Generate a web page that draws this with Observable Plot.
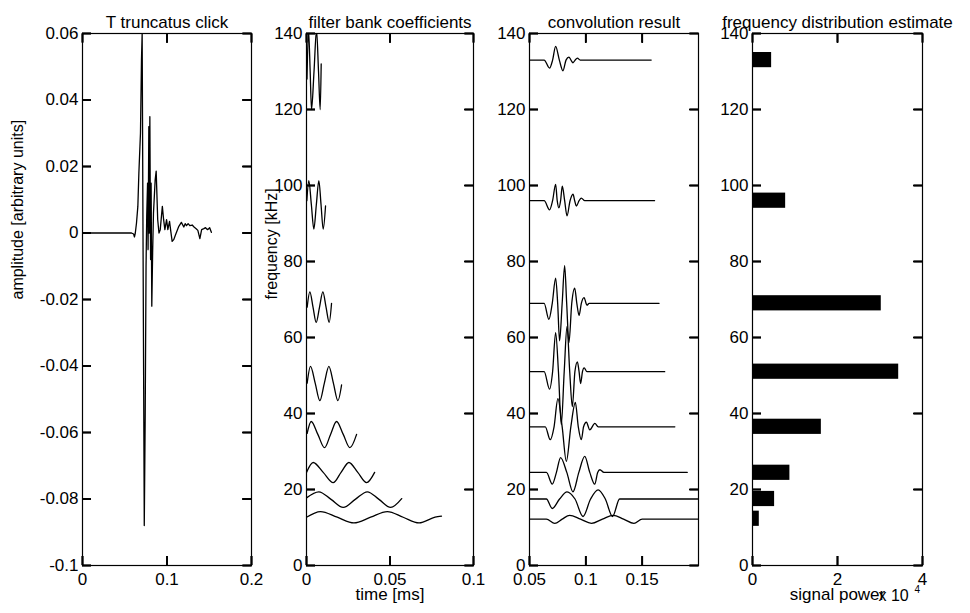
<!DOCTYPE html>
<html><head><meta charset="utf-8">
<script src="https://cdn.jsdelivr.net/npm/d3@7"></script>
<script src="https://cdn.jsdelivr.net/npm/@observablehq/plot@0.6"></script>
<style>
html,body{margin:0;padding:0;background:#fff;}
#wrap{position:relative;width:970px;height:613px;overflow:hidden;background:#fff;}
#wrap > svg{position:absolute;top:0;margin:0;background:transparent;overflow:visible;}
</style></head><body><div id="wrap"></div>
<script>
// ---------- Panel 1: T truncatus click ----------
const clickT = [0, 0.058, 0.0605, 0.0615, 0.0625, 0.0639, 0.0655, 0.0667, 0.0686, 0.0698, 0.0706, 0.0716, 0.0731, 0.0742, 0.0752, 0.0760, 0.0770, 0.0776, 0.0785, 0.0790, 0.0797, 0.0806, 0.0812, 0.0820, 0.0830, 0.0840, 0.0860, 0.0872, 0.0890, 0.0905, 0.0920, 0.0945, 0.0960, 0.0975, 0.0995, 0.1010, 0.1030, 0.1045, 0.1061, 0.1080, 0.1101, 0.1140, 0.1170, 0.1199, 0.1215, 0.1231, 0.1250, 0.1270, 0.1298, 0.1320, 0.1345, 0.1365, 0.1389, 0.1410, 0.1436, 0.1456, 0.1480, 0.1505, 0.1525];
const clickV = [0, 0, -0.0003, -0.0012, 0, 0.003, 0.008, 0.018, 0.030, 0.052, 0.060, 0.0, -0.088, -0.055, -0.01, 0.005, 0.015, -0.005, 0.032, 0.0, 0.035, -0.008, 0.015, -0.022, -0.006, 0.006, 0.016, 0.0186, 0.004, 0.0, 0.001, 0.008, 0.004, 0.001, 0.004, 0.001, 0.0035, 0.0005, -0.0025, -0.002, -0.0005, 0.002, 0.0032, 0.0018, 0.0028, 0.0022, 0.0028, 0.0022, 0.0024, 0.0018, 0.0013, 0.0008, -0.0017, 0.0010, 0.0013, 0.0016, 0.0010, 0.0016, 0.0002];
const p1XTicks = [0, 0.1, 0.2];
const p1YTicks = [-0.1, -0.08, -0.06, -0.04, -0.02, 0, 0.02, 0.04, 0.06];

// ---------- Panel 2: filter bank coefficients (time ms, kHz) ----------
const fb1T = [0.0003, 0.0012, 0.0022, 0.0030, 0.0045, 0.0060, 0.0072, 0.0082, 0.0088];
const fb1F = [128, 141, 130, 120, 130, 141, 130, 120, 132];
const fb2T = [0.0002, 0.0014, 0.0029, 0.0044, 0.0059, 0.0074, 0.0087, 0.0100, 0.0114];
const fb2F = [96, 101.3, 95, 88.5, 95, 101.3, 95, 88.5, 94.6];
const fb3T = [0.0004, 0.0020, 0.0039, 0.0058, 0.0078, 0.0098, 0.0117, 0.0136, 0.0150];
const fb3F = [68, 72, 68, 64, 68, 72, 68, 64, 69];
const fb4T = [0.0004, 0.0024, 0.0052, 0.0080, 0.0107, 0.0134, 0.0161, 0.0188, 0.0210];
const fb4F = [48, 52.4, 48, 43.4, 48, 52.4, 48, 43.4, 47.5];
const fb5T = [0.0004, 0.0028, 0.0068, 0.0108, 0.0144, 0.0180, 0.0220, 0.0260, 0.0300];
const fb5F = [34.8, 37.9, 34.5, 31, 34.5, 37.9, 34.5, 31, 34.5];
const fb6T = [0, 0.0040, 0.0100, 0.0160, 0.0207, 0.0254, 0.0307, 0.0360, 0.0408];
const fb6F = [24.5, 27.1, 24.5, 21.8, 24.5, 27.1, 24.5, 21.8, 24.5];
const fb7T = [0, 0.0074, 0.0147, 0.0220, 0.0292, 0.0364, 0.0434, 0.0504, 0.0570];
const fb7F = [17.8, 19.4, 17.4, 15.3, 17.4, 19.4, 17.4, 15.3, 17.6];
const fb8T = [0, 0.0084, 0.0184, 0.0284, 0.0384, 0.0484, 0.0579, 0.0674, 0.0770, 0.0808];
const fb8F = [12.7, 14.2, 12.7, 11.2, 12.7, 14.2, 12.7, 11.2, 12.7, 13.0];
const p2XTicks = [0, 0.05, 0.1];
const freqTicks = [0, 20, 40, 60, 80, 100, 120, 140];

// ---------- Panel 3: convolution result ----------
const cvAT = [0.05, 0.063, 0.0678, 0.0705, 0.0732, 0.0765, 0.0797, 0.0824, 0.085, 0.0868, 0.0886, 0.0905, 0.0925, 0.095, 0.158];
const cvAF = [133, 133, 130.9, 133, 136.6, 133, 130.2, 133, 133.8, 133, 132.3, 133, 133.5, 133, 133];
const cvBT = [0.05, 0.063, 0.0678, 0.0705, 0.0732, 0.0746, 0.0761, 0.0776, 0.0791, 0.0812, 0.0833, 0.086, 0.0886, 0.0901, 0.0916, 0.094, 0.096, 0.099, 0.161];
const cvBF = [96, 96, 93.6, 96, 100.3, 96, 94.1, 96, 99.8, 96, 92, 96, 97.7, 96, 94.6, 96, 96.7, 96, 96];
const cvCT = [0.05, 0.063, 0.0672, 0.0702, 0.0732, 0.075, 0.0767, 0.079, 0.0812, 0.083, 0.085, 0.0875, 0.0901, 0.092, 0.094, 0.096, 0.0984, 0.101, 0.103, 0.165];
const cvCF = [69, 69, 64.8, 69, 75.6, 69, 59.1, 69, 78.9, 69, 58.6, 69, 73, 69, 65.8, 69, 70.5, 68.5, 69, 69];
const cvDT = [0.05, 0.063, 0.0678, 0.0705, 0.0732, 0.0757, 0.0782, 0.0808, 0.0833, 0.0857, 0.088, 0.0903, 0.0925, 0.094, 0.0954, 0.097, 0.0985, 0.101, 0.170];
const cvDF = [51, 51, 46.4, 51, 61.3, 51, 37.1, 51, 62.9, 51, 41.8, 51, 53.6, 51, 47.9, 51, 52, 51, 51];
const cvET = [0.05, 0.064, 0.0684, 0.0718, 0.0752, 0.079, 0.0827, 0.0867, 0.0907, 0.0933, 0.096, 0.098, 0.1005, 0.1035, 0.108, 0.111, 0.179];
const cvEF = [36.5, 36.5, 33.1, 36.5, 43.9, 36.5, 27.4, 36.5, 42.9, 36.5, 33.1, 36.5, 37.7, 35.7, 37.4, 36.5, 36.5];
const cvFT = [0.05, 0.065, 0.0702, 0.0739, 0.0776, 0.0831, 0.0886, 0.0938, 0.099, 0.1035, 0.1079, 0.1105, 0.1125, 0.116, 0.190];
const cvFF = [24.5, 24.5, 21.4, 24.5, 28.4, 24.5, 19.4, 24.5, 28.7, 24.5, 21.4, 24.5, 25.2, 24.5, 24.5];
const cvGT = [0.05, 0.065, 0.0702, 0.0767, 0.0833, 0.0904, 0.0975, 0.1042, 0.1109, 0.1173, 0.1237, 0.1300, 0.2];
const cvGF = [17.5, 17.5, 15.0, 17.5, 19.4, 17.5, 12.9, 17.5, 19.9, 17.5, 12.9, 17.5, 17.5];
const cvHT = [0.05, 0.065, 0.0724, 0.079, 0.0856, 0.0953, 0.105, 0.1147, 0.1243, 0.1335, 0.1427, 0.150, 0.2];
const cvHF = [12.2, 12.2, 11.1, 12.2, 13.2, 12.2, 11.1, 12.2, 13.2, 12.2, 11.1, 12.2, 12.2];
const p3XTicks = [0.05, 0.1, 0.15];

// ---------- Panel 4: frequency distribution estimate ----------
const bandFreq = [133, 96, 69, 51, 36.5, 24.4, 17.5, 12.3];
const bandPower = [0.45, 0.78, 3.03, 3.44, 1.62, 0.88, 0.52, 0.16]; // x 10^4
const p4XTicks = [0, 2, 4];

// ---------- helpers ----------
const FONT = "'Liberation Sans', Arial, Helvetica, sans-serif";
const TICK = 9;
const FRAME_H = 532;
const fmt = d => String(Math.round(d * 1000) / 1000);
const blank = () => "";
function box(xt, yt, frameW) {
  const tk = {stroke: "black", strokeWidth: 1.8};
  return [
    Plot.frame({stroke: "black", strokeWidth: 1.2}),
    // inward ticks on all four sides (MATLAB box style)
    Plot.axisX(xt, {anchor: "bottom", tickSize: TICK, dy: -TICK, tickFormat: blank, label: null, ...tk}),
    Plot.axisX(xt, {anchor: "top", tickSize: TICK, dy: TICK, tickFormat: blank, label: null, ...tk}),
    Plot.axisY(yt, {anchor: "left", tickSize: TICK, dx: TICK, tickFormat: blank, label: null, ...tk}),
    Plot.axisY(yt, {anchor: "right", tickSize: TICK, dx: -TICK, tickFormat: blank, label: null, ...tk}),
    Plot.ruleX(xt, {x: d => d, insetTop: FRAME_H - TICK, ...tk}),
    Plot.ruleX(xt, {x: d => d, insetBottom: FRAME_H - TICK, ...tk}),
    Plot.ruleY(yt, {y: d => d, insetRight: frameW - TICK, ...tk}),
    Plot.ruleY(yt, {y: d => d, insetLeft: frameW - TICK, ...tk}),
    // tick labels
    Plot.axisX(xt, {anchor: "bottom", tickSize: 0, tickPadding: 7, tickFormat: fmt, label: null, fontSize: 17}),
    Plot.axisY(yt, {anchor: "left", tickSize: 0, tickPadding: 4, tickFormat: fmt, label: null, fontSize: 17})
  ];
}
function title(t) {
  return Plot.text([t], {frameAnchor: "top", dy: -18, fontSize: 17, fill: "black"});
}
function trace(T, V, curve = "monotone-x") {
  return Plot.line(d3.zip(T, V), {x: d => d[0], y: d => d[1], stroke: "black", strokeWidth: 1.3, curve, clip: true});
}
const wrap = document.getElementById("wrap");
function place(svg, left) {
  svg.style.left = left + "px";
  wrap.appendChild(svg);
}
const common = {height: 613, marginTop: 33, marginBottom: 48, style: {fontFamily: FONT, fontSize: "17px", color: "black", background: "transparent", overflow: "visible"}};

// Panel 1
place(Plot.plot({
  ...common, width: 262, marginLeft: 82, marginRight: 11,
  x: {domain: [0, 0.2]}, y: {domain: [-0.1, 0.06]},
  marks: [
    trace(clickT, clickV, "linear"),
    ...box(p1XTicks, p1YTicks, 169),
    title("T truncatus click"),
    Plot.text(["amplitude [arbitrary units]"], {frameAnchor: "left", dx: -65, rotate: -90, fontSize: 16, fill: "black"})
  ]
}), 0);

// Panel 2
place(Plot.plot({
  ...common, width: 223, marginLeft: 44, marginRight: 12,
  x: {domain: [0, 0.1]}, y: {domain: [0, 140]},
  marks: [
    trace(fb1T, fb1F), trace(fb2T, fb2F), trace(fb3T, fb3F), trace(fb4T, fb4F),
    trace(fb5T, fb5F), trace(fb6T, fb6F), trace(fb7T, fb7F), trace(fb8T, fb8F),
    ...box(p2XTicks, freqTicks, 167),
    title("filter bank coefficients"),
    Plot.text(["frequency [kHz]"], {frameAnchor: "left", dx: -35, rotate: -90, fontSize: 16, fill: "black"}),
    Plot.text(["time [ms]"], {frameAnchor: "bottom", dy: 34, fontSize: 17, fill: "black"})
  ]
}), 262);

// Panel 3
place(Plot.plot({
  ...common, width: 225, marginLeft: 44, marginRight: 12,
  x: {domain: [0.05, 0.2]}, y: {domain: [0, 140]},
  marks: [
    trace(cvAT, cvAF), trace(cvBT, cvBF), trace(cvCT, cvCF), trace(cvDT, cvDF),
    trace(cvET, cvEF), trace(cvFT, cvFF), trace(cvGT, cvGF), trace(cvHT, cvHF),
    ...box(p3XTicks, freqTicks, 169),
    title("convolution result")
  ]
}), 485);

// Panel 4
const bars = d3.zip(bandFreq, bandPower);
place(Plot.plot({
  ...common, width: 260, marginLeft: 42, marginRight: 48,
  x: {domain: [0, 4]}, y: {domain: [0, 140]},
  marks: [
    Plot.rectX(bars, {x1: 0, x2: d => d[1], y1: d => d[0] - 2, y2: d => d[0] + 2, fill: "black"}),
    ...box(p4XTicks, freqTicks, 170),
    title("frequency distribution estimate"),
    Plot.text(["signal power"], {frameAnchor: "bottom", dy: 34, fontSize: 17, fill: "black"}),
    Plot.text(["x 10"], {frameAnchor: "bottom-right", dx: -44, dy: 35, textAnchor: "start", fontSize: 16, fill: "black"}),
    Plot.text(["4"], {frameAnchor: "bottom-right", dx: -8, dy: 27, textAnchor: "start", fontSize: 10, fill: "black"})
  ]
}), 710);
</script></body></html>
